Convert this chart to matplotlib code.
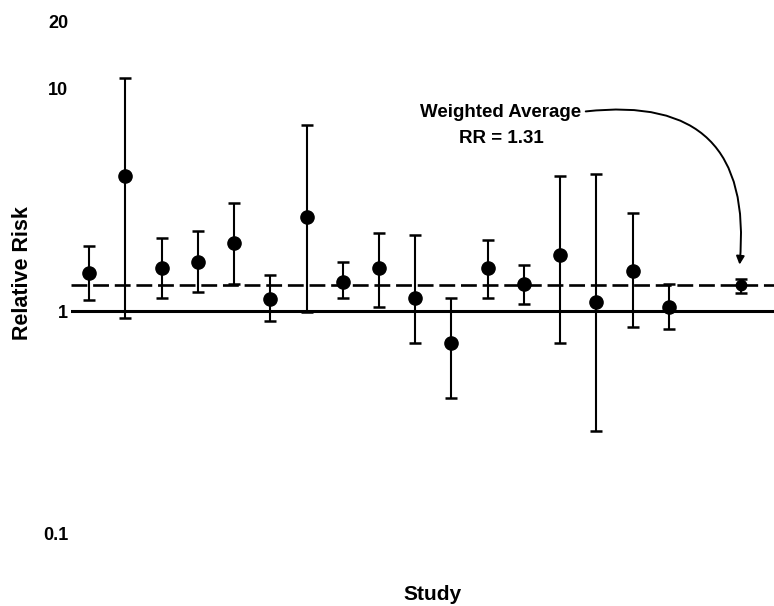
import numpy as np
import matplotlib
matplotlib.use("Agg")
import matplotlib.pyplot as plt

plt.rcParams["font.family"] = ["Liberation Sans", "DejaVu Sans"]
plt.rcParams["font.weight"] = "bold"

# relative risk per study with lower / upper confidence limits
study = np.arange(1, 18)
rr = [1.48, 4.06, 1.57, 1.67, 2.02, 1.14, 2.65, 1.36, 1.57,
      1.15, 0.72, 1.57, 1.33, 1.78, 1.10, 1.52, 1.05]
lower = [1.12, 0.93, 1.15, 1.22, 1.33, 0.90, 0.99, 1.15, 1.05,
         0.72, 0.41, 1.15, 1.08, 0.72, 0.29, 0.85, 0.83]
upper = [1.96, 11.1, 2.13, 2.29, 3.06, 1.45, 6.84, 1.67, 2.24,
         2.20, 1.15, 2.08, 1.61, 4.06, 4.15, 2.76, 1.32]

avg_x = 19
avg_rr = 1.31
avg_lower = 1.21
avg_upper = 1.40

yticks = [0.1, 1, 10, 20]
ytick_labels = ["0.1", "1", "10", "20"]

fig = plt.figure(figsize=(7.74, 6.06), dpi=100)
ax = fig.add_axes([71 / 774, 1 - 534 / 606, 1 - 71 / 774, (534 - 21.5) / 606])
ax.set_yscale("log")
ax.set_ylim(0.1, 20)
ax.set_xlim(0.5, 19.9)

ax.axhline(1.0, color="black", lw=2.2, zorder=1)
ax.axhline(avg_rr, color="black", lw=1.9, dashes=(6, 2.2), zorder=1)

rr_a = np.array(rr)
yerr = [rr_a - np.array(lower), np.array(upper) - rr_a]
ax.errorbar(study, rr, yerr=yerr, fmt="o", color="black", ms=9.5,
            elinewidth=1.5, capsize=4.5, capthick=1.8, zorder=3)
ax.errorbar([avg_x], [avg_rr], yerr=[[avg_rr - avg_lower], [avg_upper - avg_rr]],
            fmt="o", color="black", ms=7.5, elinewidth=1.5, capsize=4.5,
            capthick=1.8, zorder=3)

ax.annotate("Weighted Average\nRR = 1.31", xy=(avg_x - 0.05, 1.62),
            xytext=(501 / 774, 1 - 125.5 / 606), textcoords="figure fraction",
            ha="center", va="center", fontsize=13.5,
            fontweight="bold", linespacing=1.65,
            arrowprops=dict(arrowstyle="-|>", color="black", lw=1.4,
                            connectionstyle="arc3,rad=-0.62",
                            relpos=(1.0, 0.82), shrinkA=1, shrinkB=0,
                            mutation_scale=12))

ax.set_yticks(yticks)
ax.set_yticklabels(ytick_labels)
ax.minorticks_off()
ax.set_xticks([])
ax.tick_params(axis="y", length=0, pad=2, labelsize=13)
for s in ax.spines.values():
    s.set_visible(False)

fig.text(23 / 774, 1 - 273 / 606, "Relative Risk", rotation=90, ha="center",
         va="center", fontsize=15.5, fontweight="bold")
fig.text(432 / 774, 1 - 595 / 606, "Study", ha="center", va="center",
         fontsize=15, fontweight="bold")

fig.savefig("out.png", dpi=100)
